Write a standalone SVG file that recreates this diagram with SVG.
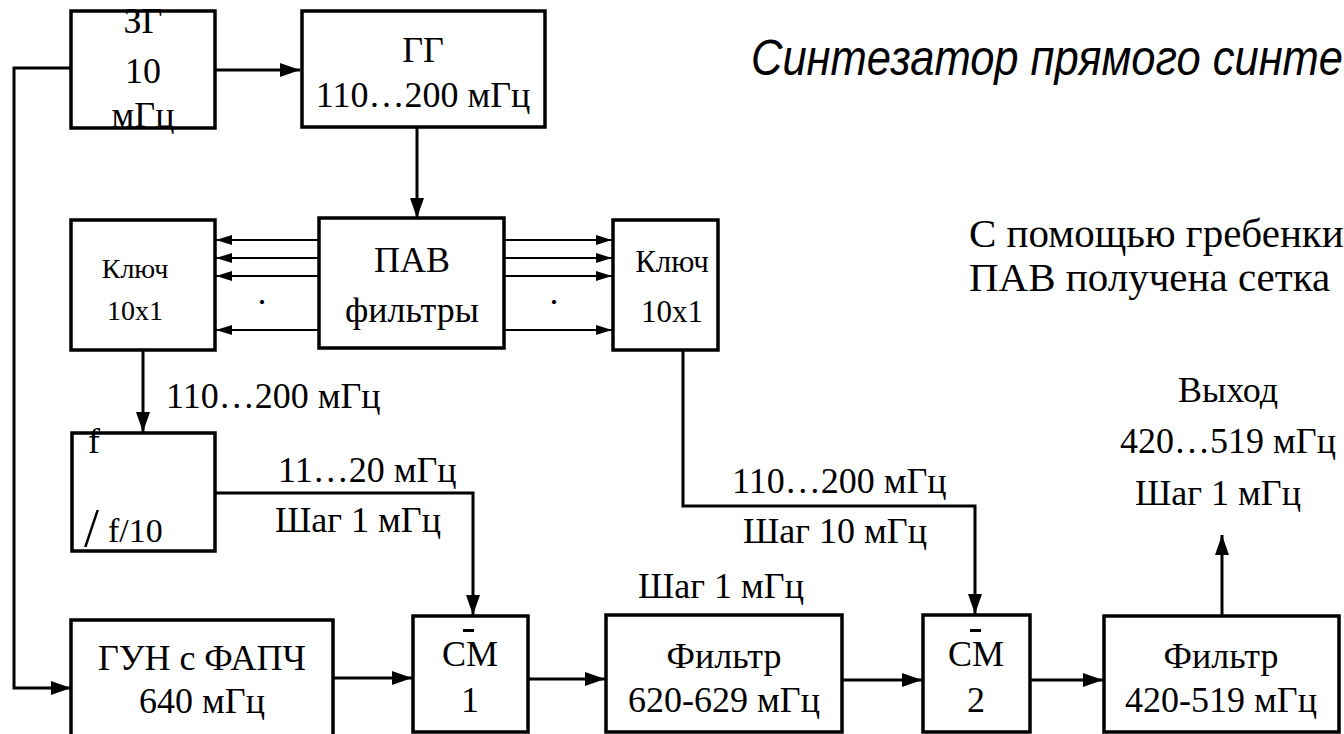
<svg xmlns="http://www.w3.org/2000/svg" width="1344" height="734" viewBox="0 0 1344 734">
<defs>
<style>
.box{fill:#fff;stroke:#000;stroke-width:3.5}
.t{font-family:'Liberation Serif','Times New Roman',serif;font-size:36px;fill:#000;text-anchor:middle}
.st{text-anchor:start}
.s{font-size:28px}
.c{fill:none;stroke:#000;stroke-width:3}
.th{fill:none;stroke:#000;stroke-width:2}
</style>
<marker id="a" markerUnits="userSpaceOnUse" markerWidth="20" markerHeight="14" refX="20" refY="7" orient="auto"><path d="M0,0 L20,7 L0,14 z" fill="#000"/></marker>
<marker id="b" markerUnits="userSpaceOnUse" markerWidth="16" markerHeight="10" refX="16" refY="5" orient="auto"><path d="M0,0 L16,5 L0,10 z" fill="#000"/></marker>
</defs>
<rect width="1344" height="734" fill="#fff"/>
<g id="connectors">
<path class="c" d="M215,70 H300" marker-end="url(#a)"/>
<path class="c" d="M71,68 H14 V688 H71" marker-end="url(#a)"/>
<path class="c" d="M417,127 V218" marker-end="url(#a)"/>
<path class="th" d="M319,240 H216" marker-end="url(#b)"/>
<path class="th" d="M319,258 H216" marker-end="url(#b)"/>
<path class="th" d="M319,276 H216" marker-end="url(#b)"/>
<path class="th" d="M319,330 H216" marker-end="url(#b)"/>
<path class="th" d="M504,240 H612" marker-end="url(#b)"/>
<path class="th" d="M504,258 H612" marker-end="url(#b)"/>
<path class="th" d="M504,276 H612" marker-end="url(#b)"/>
<path class="th" d="M504,330 H612" marker-end="url(#b)"/>
<path class="c" d="M143,350 V432" marker-end="url(#a)"/>
<path class="c" d="M215,493 H473 V615" marker-end="url(#a)"/>
<path class="c" d="M683,350 V506 H975 V614" marker-end="url(#a)"/>
<path class="c" d="M333,678 H412" marker-end="url(#a)"/>
<path class="c" d="M528,679 H605" marker-end="url(#a)"/>
<path class="c" d="M842,680 H922" marker-end="url(#a)"/>
<path class="c" d="M1030,680 H1103" marker-end="url(#a)"/>
<path class="c" d="M1222,616 V535" marker-end="url(#a)"/>
</g>
<g id="zg"><rect class="box" x="71" y="11" width="144" height="117"/>
<text class="t" x="143" y="33">ЗГ</text><text class="t" x="143" y="83">10</text><text class="t" x="143" y="127">мГц</text></g>
<g id="gg"><rect class="box" x="302" y="11" width="243" height="116"/>
<text class="t" x="423" y="62">ГГ</text><text class="t" x="423" y="107">110…200 мГц</text></g>
<g id="pav"><rect class="box" x="319" y="218" width="185" height="130"/>
<text class="t" x="412" y="272">ПАВ</text><text class="t" x="412" y="322">фильтры</text></g>
<g id="key-left"><rect class="box" x="71" y="220" width="144" height="130"/>
<text class="t s" x="135" y="278">Ключ</text><text class="t s" x="135" y="320">10x1</text></g>
<g id="dots"><text class="t" x="262" y="314">·</text><text class="t" x="554" y="314">·</text></g>
<g id="key-right"><rect class="box" x="613" y="220" width="105" height="130"/>
<text class="t" style="font-size:31px" x="672" y="272">Ключ</text><text class="t" style="font-size:31px" x="672" y="322">10x1</text></g>
<g id="div"><rect class="box" x="72" y="433" width="143" height="118"/>
<text class="t st" x="88" y="453">f</text>
<text class="t st" style="font-size:54px" x="84" y="546">/</text>
<text class="t st" style="font-size:34px" x="108" y="542">f/10</text></g>
<g id="gun"><rect class="box" x="71" y="620" width="262" height="130"/>
<text class="t" x="202" y="670">ГУН с ФАПЧ</text><text class="t" x="202" y="713">640 мГц</text></g>
<g id="cm1"><rect class="box" x="413" y="616" width="115" height="116"/>
<rect x="463" y="629" width="11" height="3"/>
<text class="t" x="470" y="666">СМ</text><text class="t" x="470" y="712">1</text></g>
<g id="filter1"><rect class="box" x="606" y="615" width="236" height="117"/>
<text class="t" x="724" y="668">Фильтр</text><text class="t" x="724" y="712">620-629 мГц</text></g>
<g id="cm2"><rect class="box" x="923" y="615" width="107" height="117"/>
<rect x="970" y="629" width="11" height="3"/>
<text class="t" x="976" y="666">СМ</text><text class="t" x="976" y="712">2</text></g>
<g id="filter2"><rect class="box" x="1104" y="616" width="235" height="116"/>
<text class="t" x="1221" y="668">Фильтр</text><text class="t" x="1221" y="712">420-519 мГц</text></g>
<g id="labels">
<text class="t st" x="166" y="408">110…200 мГц</text>
<text class="t st" x="278" y="482">11…20 мГц</text>
<text class="t st" x="275" y="532">Шаг 1 мГц</text>
<text class="t st" x="732" y="493">110…200 мГц</text>
<text class="t st" x="743" y="543">Шаг 10 мГц</text>
<text class="t st" x="638" y="598">Шаг 1 мГц</text>
<text class="t" x="1228" y="402">Выход</text>
<text class="t" x="1228" y="453">420…519 мГц</text>
<text class="t" x="1218" y="505">Шаг 1 мГц</text>
<text class="t st" style="font-size:41px" x="969" y="247">С помощью гребенки</text>
<text class="t st" style="font-size:41px" x="969" y="291">ПАВ получена сетка</text>
<text transform="translate(751,75) scale(0.87,1)" style="font-family:'Liberation Sans',Arial,sans-serif;font-style:italic;font-size:50px">Синтезатор прямого синте</text>
</g>
</svg>
